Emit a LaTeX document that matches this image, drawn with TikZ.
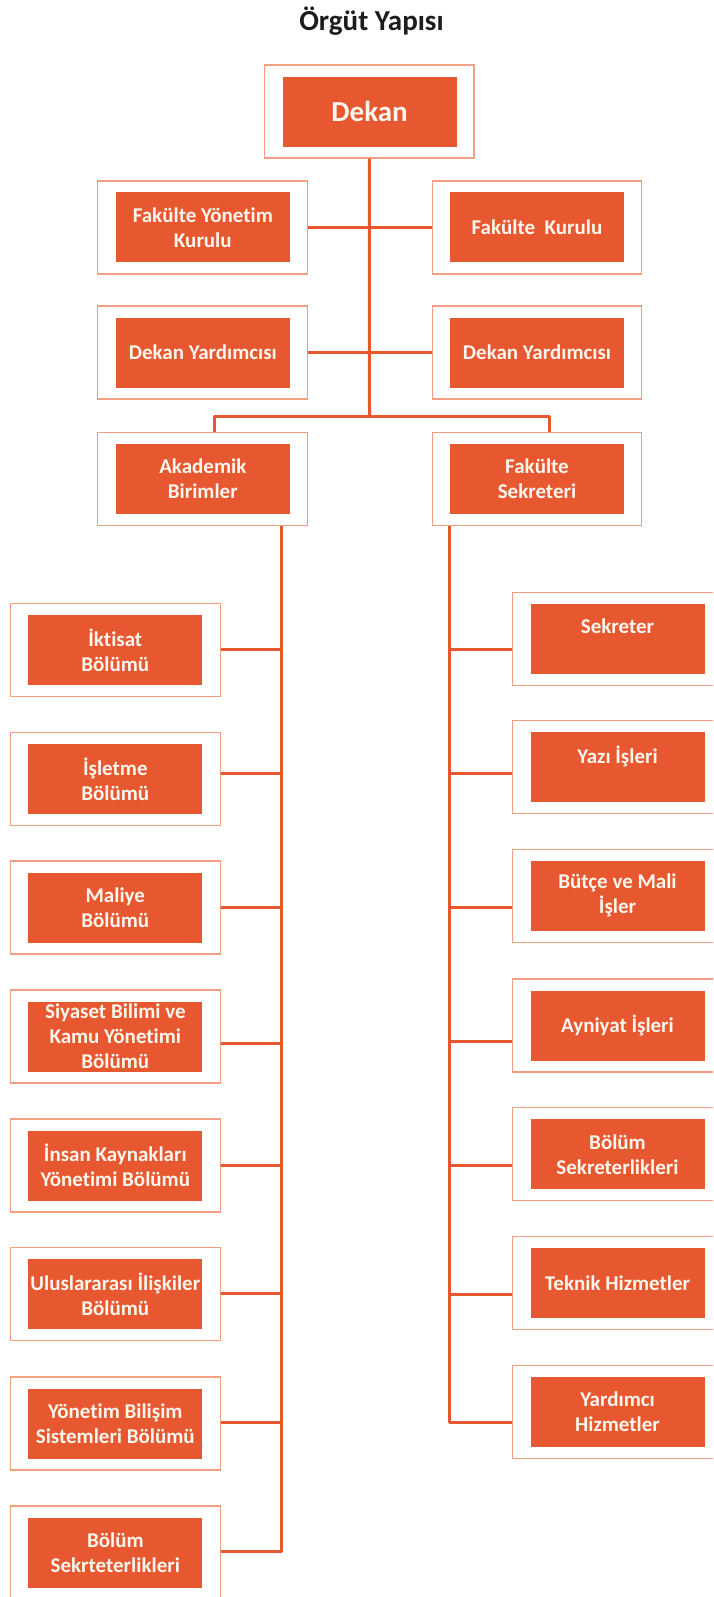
\documentclass[tikz,border=0pt]{standalone}
\usepackage{fontspec}
\setmainfont{Carlito}[Ligatures={NoCommon}]
\definecolor{org}{RGB}{232,88,48}
\definecolor{boxline}{RGB}{242,158,128}
\definecolor{txt}{RGB}{255,246,238}
\definecolor{ttl}{RGB}{28,28,28}
\tikzset{
  outerbox/.style={draw=boxline, line width=1.3pt, minimum width=209.5pt, minimum height=93pt, inner sep=0pt},
  innerbox/.style={fill=org, minimum width=174pt, minimum height=70pt, inner sep=0pt, text=txt, align=center,
    font=\fontsize{21}{25}\selectfont\bfseries},
  conn/.style={draw=org, line width=3pt, line join=round},
}
\begin{document}
\begin{tikzpicture}[x=1pt,y=-1pt]
\clip (0,0) rectangle (713,1597);
\fill[white] (0,0) rectangle (713,1597);

% title
\node[anchor=base, text=ttl, font=\fontsize{29}{32}\selectfont\bfseries, inner sep=0pt] (title) at (371.5,30.5) {Örgüt Yapısı};

% top boxes
\node[outerbox] (dekO) at (369.3,111.5) {};
\node[innerbox, font=\fontsize{29}{32}\selectfont\bfseries] (dek) at (369.6,111.7) {Dekan};

\node[outerbox] (fykO) at (202.5,227.5) {};
\node[innerbox] (fyk) at (202.8,227.3) {Fakülte Yönetim\\Kurulu};
\node[outerbox] (fkO) at (537,227.5) {};
\node[innerbox] (fk) at (537,227.3) {Fakülte\ \ Kurulu};

\node[outerbox] (dy1O) at (202.5,352.6) {};
\node[innerbox] (dy1) at (202.8,352.6) {Dekan Yardımcısı};
\node[outerbox] (dy2O) at (537,352.6) {};
\node[innerbox] (dy2) at (537,352.6) {Dekan Yardımcısı};

\node[outerbox] (abO) at (202.5,478.8) {};
\node[innerbox] (ab) at (202.8,479) {Akademik\\Birimler};
\node[outerbox] (fsO) at (537,478.8) {};
\node[innerbox] (fs) at (537,479) {Fakülte\\Sekreteri};

% left column
\foreach \n/\y/\t in {
  l1/649.8/{İktisat\\Bölümü},
  l2/778.8/{İşletme\\Bölümü},
  l3/907.5/{Maliye\\Bölümü},
  l4/1036.5/{Siyaset Bilimi ve\\Kamu Yönetimi\\Bölümü},
  l5/1165.5/{İnsan Kaynakları\\Yönetimi Bölümü},
  l6/1294.2/{Uluslararası İlişkiler\\Bölümü},
  l7/1423.5/{Yönetim Bilişim\\Sistemleri Bölümü},
  l8/1552.5/{Bölüm\\Sekrteterlikleri}}{
  \node[outerbox] (\n O) at (115.5,\y) {};
  \node[innerbox] (\n) at (115.3,\y) {\t};
}

% right column
\foreach \n/\y/\t in {
  r1/638.8/{Sekreter\\\mbox{}},
  r2/767.2/{Yazı İşleri\\\mbox{}},
  r3/895.8/{Bütçe ve Mali\\İşler},
  r4/1025.5/{Ayniyat İşleri},
  r5/1154.2/{Bölüm\\Sekreterlikleri},
  r6/1282.8/{Teknik Hizmetler},
  r7/1411.8/{Yardımcı\\Hizmetler}}{
  \node[outerbox] (\n O) at (617.1,\y) {};
  \node[innerbox] (\n) at (617.5,\y) {\t};
}

% junction coordinates
\coordinate (bus) at (369.5,416);
\foreach \k/\y in {1/649.7,2/773.3,3/907.7,4/1043,5/1165.7,6/1293.8,7/1422.7,8/1551.7}{
  \coordinate (jL\k) at (281.7,\y);
}
\foreach \k/\y in {1/649.7,2/773.3,3/907.7,4/1041.7,5/1165.7,6/1294.2,7/1422.7}{
  \coordinate (jR\k) at (449.7,\y);
}

% connectors top
\draw[conn] (dekO.south) -- (bus);
\draw[conn] (fykO.east) -- (fkO.west);
\draw[conn] (dy1O.east) -- (dy2O.west);
\draw[conn] ([xshift=12pt]abO.north) -- ([xshift=12pt]abO.north |- bus) -- ([xshift=12pt]fsO.north |- bus) -- ([xshift=12pt]fsO.north);

% left trunk
\draw[conn] (abO.south -| jL1) -- (jL8) -- (l8O.east |- jL8);
\foreach \k in {1,...,7}{
  \draw[conn] (l\k O.east |- jL\k) -- (jL\k);
}
% right trunk
\draw[conn] (fsO.south -| jR1) -- (jR7) -- (r7O.west |- jR7);
\foreach \k in {1,...,6}{
  \draw[conn] (jR\k) -- (r\k O.west |- jR\k);
}
\end{tikzpicture}
\end{document}
